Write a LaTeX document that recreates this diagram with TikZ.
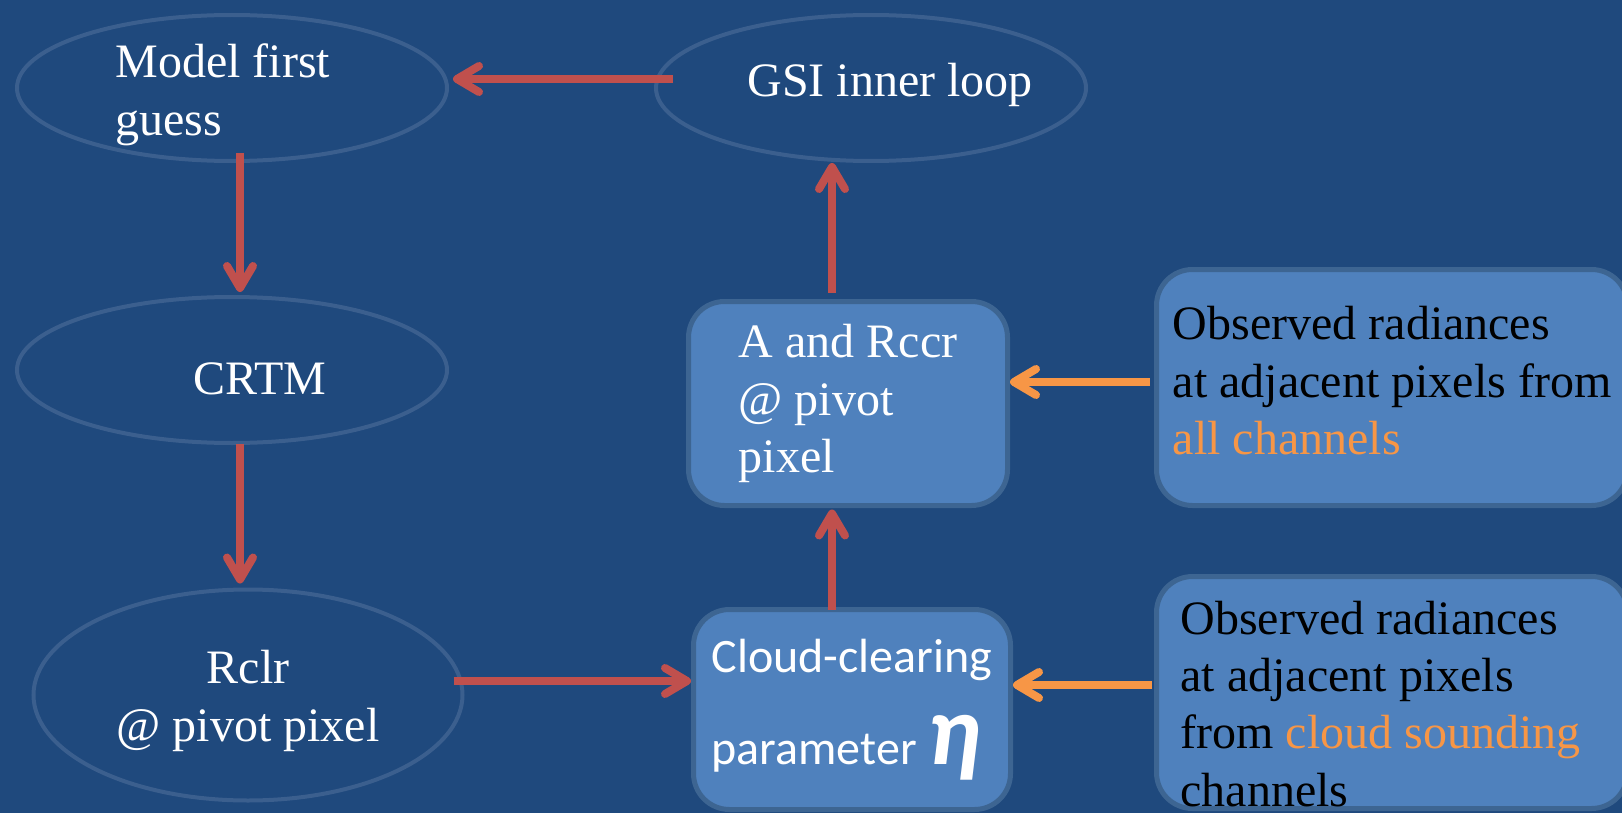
\documentclass[tikz,border=0pt]{standalone}
\usepackage{fontspec}
\setmainfont{Liberation Serif}
\newfontfamily\calibri{Carlito}
\usetikzlibrary{shapes.geometric,arrows.meta}

\definecolor{bgblue}{HTML}{1F497D}
\definecolor{ringblue}{HTML}{3B5F8E}
\definecolor{boxblue}{HTML}{4F81BD}
\definecolor{boxedge}{HTML}{3D6592}
\definecolor{flowred}{HTML}{C0504D}
\definecolor{feedorange}{HTML}{F79646}

\tikzset{
  stage/.style={ellipse, draw=ringblue, line width=2pt, inner sep=0pt, minimum width=215pt, minimum height=73pt},
  stagetext/.style={text=white, inner sep=0pt, font=\fontsize{24}{28.7}\selectfont},
  panel/.style={rectangle, rounded corners=18pt, draw=boxedge, fill=boxblue, line width=2.5pt, inner sep=0pt, align=left, font=\fontsize{24}{28.7}\selectfont},
  flow/.style={draw=flowred, line width=4pt, -{Straight Barb[length=11pt,width=13pt,round]}},
  feed/.style={flow, draw=feedorange},
}

\begin{document}
\begin{tikzpicture}[x=0.5pt, y=-0.5pt]
        % Background
        \fill[bgblue] (0,0) rectangle (1622,813);
        \useasboundingbox (0,0) rectangle (1622,813);
        \clip (0,0) rectangle (1622,813);

        % Ellipses
        \node[stage] (model) at (232,88) {};
        \node[stage] (gsi) at (871,88) {};
        \node[stage] (crtm) at (232,370) {};
        \node[stage, minimum width=214.5pt, minimum height=105.5pt] (rclr) at (248,695) {};

        % Ellipse texts (base = last line)
        \node[stagetext, anchor=base west, align=left] (model-t) at (115,135) {Model first\\guess};
        \node[stagetext, anchor=base west] (gsi-t) at (747,97) {GSI inner loop};
        \node[stagetext, anchor=base west] (crtm-t) at (193,394) {CRTM};
        \node[stagetext, anchor=base, align=center] (rclr-t) at (248,741) {Rclr\\@ pivot pixel};

        % Boxes
        \node[panel, text=white, minimum width=159.5pt, minimum height=102pt] (acoef) at (848,403.5) {A and Rccr\\@ pivot\\pixel};
        \node[panel, text=white, font=\calibri\fontsize{24}{46}\selectfont, minimum width=158.5pt, minimum height=100pt] (cloud) at (852,709.5)
          {Cloud-clearing\\parameter {\fontsize{50}{46}\selectfont\bfseries\itshape η}};
        \node[panel, minimum width=235.5pt, minimum height=118pt] (obs1) at (1392,387.5)
          {Observed radiances\\at adjacent pixels from\\\textcolor{feedorange}{all channels}\rule[-7pt]{0pt}{7pt}};
        \node[panel, align=flush left, text width=211.5pt, inner xsep=12pt, minimum height=116pt] (obs2) at (1392,692.5)
          {\rule{0pt}{28pt}Observed radiances\\at adjacent pixels\\from \textcolor{feedorange}{cloud sounding}\\channels};

        % Red flow
        \draw[flow] ([xshift=9.5pt,yshift=4.5pt]gsi.west) -- ([xshift=2pt,yshift=4.5pt]model.east);
        \draw[flow] ([xshift=4pt,yshift=4.75pt]model.south) -- ([xshift=4pt,yshift=1.5pt]crtm.north);
        \draw[flow] ([xshift=4pt,yshift=0.5pt]crtm.south) -- ([xshift=-4pt,yshift=2pt]rclr.north);
        \coordinate (rtail) at ([xshift=-5.4pt,yshift=7pt]rclr.east);
        \draw[flow] (rtail) -- (rtail -| cloud.west);
        \draw[flow] ([xshift=-10pt,yshift=-1.25pt]cloud.north) -- ([xshift=-8pt,yshift=-0.75pt]acoef.south);
        \draw[flow] ([xshift=-8pt,yshift=3.25pt]acoef.north) -- ([xshift=-19.5pt]gsi.south);

        % Orange inputs
        \draw[feed] ([xshift=-2pt,yshift=2.75pt]obs1.west) -- ([yshift=2.75pt]obs1.west -| acoef.east);
        \draw[feed] ([xshift=-1pt,yshift=3.75pt]obs2.west) -- ([yshift=3.75pt]obs2.west -| cloud.east);
\end{tikzpicture}
\end{document}
